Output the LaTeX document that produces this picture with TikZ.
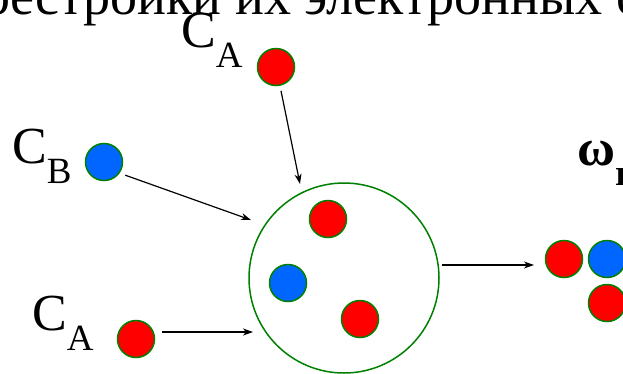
\documentclass[tikz,border=0pt]{standalone}
\usepackage{fontspec}
\setmainfont{Liberation Serif}
\usetikzlibrary{arrows.meta}
\definecolor{ballred}{RGB}{255,0,0}
\definecolor{ballblue}{RGB}{0,102,255}
\definecolor{rim}{RGB}{0,128,0}
\tikzset{
  ball/.style={circle, draw=rim, line width=1.5pt, minimum size=37pt, inner sep=0pt},
  redball/.style={ball, fill=ballred},
  blueball/.style={ball, fill=ballblue},
  arr/.style={line width=1.2pt, -{Stealth[length=10pt,width=7pt,inset=3pt]}},
  lab/.style={anchor=base west, inner sep=0pt, font=\fontsize{52}{52}\selectfont},
}
\newcommand{\subl}[1]{\raisebox{-20pt}{\fontsize{37}{37}\selectfont #1}}
\begin{document}
\begin{tikzpicture}[x=1pt,y=-1pt]
\useasboundingbox (0,0) rectangle (623,373);
\clip (0,0) rectangle (623,373);
% top cut-off text
\node[lab, font=\fontsize{54}{54}\selectfont] (title) at (-70,14) {перестройки их электронных оболочек};
% labels
\node[lab] (la1) at (181,47) {C\subl{A}};
\node[lab] (lb) at (12,163) {C\subl{B}};
\node[lab] (la2) at (32,330) {C\subl{A}};
\node[lab, font=\fontsize{52}{52}\selectfont\bfseries] (om) at (577,165) {ω\raisebox{-20pt}{\fontsize{37}{37}\selectfont r}};
% balls
\node[redball] (a1) at (276,67) {};
\node[blueball] (b1) at (104,162) {};
\node[redball] (a2) at (136,339) {};
% mixing vessel
\node[circle, draw=rim, line width=1.5pt, minimum size=190pt, inner sep=0pt] (mix) at (344,278) {};
\node[redball] (m1) at (328,219) {};
\node[blueball] (m2) at (288,283) {};
\node[redball] (m3) at (360,319) {};
% product
\node[redball] (p1) at (564,259) {};
\node[blueball] (p2) at (607,259) {};
\node[redball] (p3) at (607,303) {};
% arrow ends
\coordinate (ta1) at (300,184);
\coordinate (tb) at (251,220);
\coordinate (ta2) at (253,332);
\coordinate (sa2) at (162,332);
\coordinate (smix) at (442,265);
\coordinate (tp) at (534,265);
\draw[arr] (a1.-78) ++(1,5) -- (ta1);
\draw[arr] (b1.-32) ++(5,3) -- (tb);
\draw[arr] (sa2) -- (ta2);
\draw[arr] (smix) -- (tp);
\end{tikzpicture}
\end{document}
